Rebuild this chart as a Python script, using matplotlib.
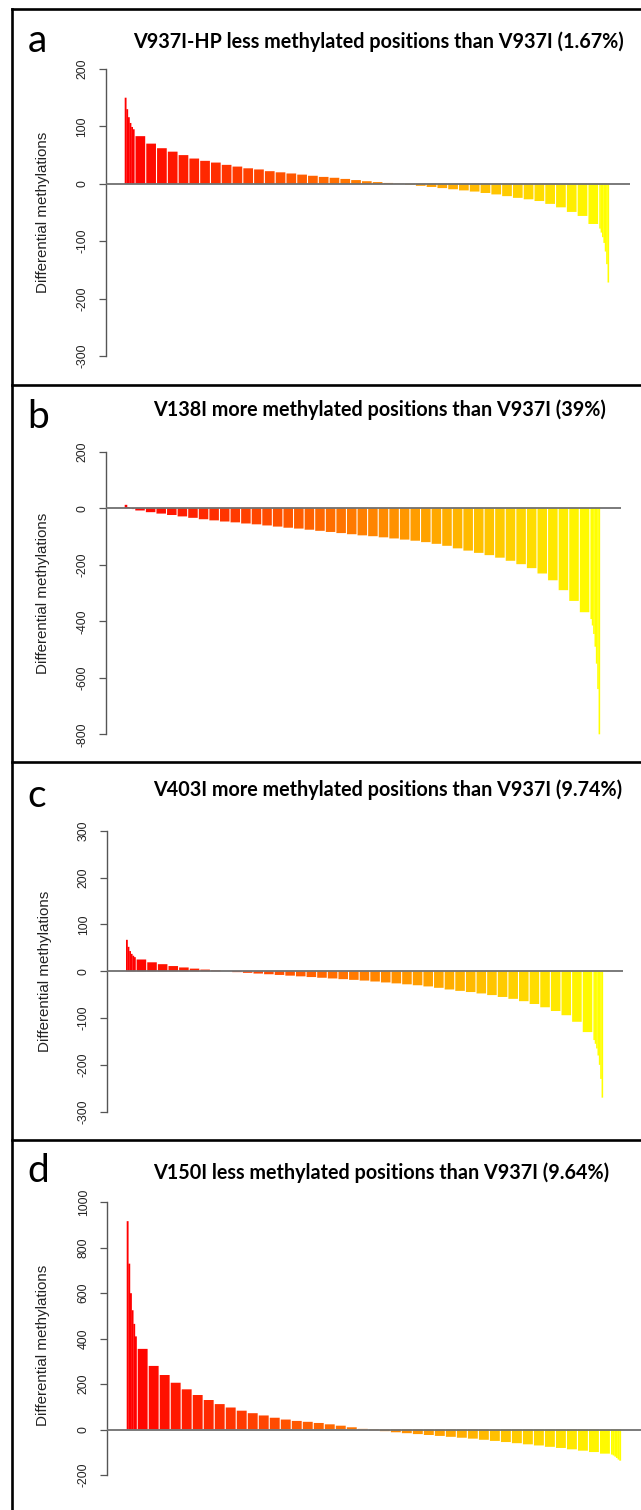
import matplotlib
matplotlib.use("Agg")
import matplotlib.pyplot as plt
from matplotlib.colors import LinearSegmentedColormap
from matplotlib.lines import Line2D

W, H = 641, 1510

# ---- data (sorted differential methylations, read per visible stripe) ----
a_title = "V937I-HP less methylated positions than V937I (1.67%)"
a_ticks = [200, 100, 0, -100, -200, -300]
a_head = [150, 130, 116, 106, 99, 95]
a_vals = [83, 70, 62, 56, 50, 44, 40, 37, 33, 30, 27, 25, 22, 20, 18, 16, 14, 12,
          10.5, 8.5, 6.5, 4.5, 3, 1.5, 0.5, -1.5, -3.5, -5.5, -7.5, -9.5, -11.5,
          -13.5, -16, -18.5, -21.5, -24.5, -27, -30, -35, -41, -49, -56, -70]
a_tail = [-78, -85, -93, -103, -118, -140, -172]

b_title = "V138I more methylated positions than V937I (39%)"
b_ticks = [200, 0, -200, -400, -600, -800]
b_head = [12, 4, -1, -3]
b_vals = [-8, -14, -19, -24, -29, -34, -39, -43, -47, -50, -54, -57, -61, -65,
          -69, -72, -76, -80, -84, -88, -92, -96, -99, -103, -107, -111, -115,
          -120, -126, -133, -142, -150, -158, -166, -175, -186, -198, -212, -231,
          -255, -290, -328, -368]
b_tail = [-392, -415, -445, -490, -550, -640, -800]

c_title = "V403I more methylated positions than V937I (9.74%)"
c_ticks = [300, 200, 100, 0, -100, -200, -300]
c_head = [67, 52, 43, 37, 33, 30]
c_vals = [25, 19, 15, 11, 8, 5.5, 3.5, 1.5, 0, -2, -3.5, -5, -6.5, -8, -9.5, -11,
          -12.5, -14, -15.5, -17, -18.5, -20, -22, -24, -26, -28, -30, -32.5,
          -35.5, -39, -42, -44.5, -47.5, -51, -55, -59, -64, -70, -77, -85, -94,
          -108, -130]
c_tail = [-147, -155, -165, -180, -200, -230, -270]

d_title = "V150I less methylated positions than V937I (9.64%)"
d_ticks = [1000, 800, 600, 400, 200, 0, -200]
d_head = [917, 730, 600, 525, 465, 410]
d_vals = [355, 280, 240, 206, 177, 152, 130, 112, 97, 83, 72, 62, 52, 44, 38, 34,
          29, 23, 17, 10, 3, -3, -7, -12, -16, -20, -24, -28, -32, -36, -40, -45,
          -50, -55, -60, -65, -70, -76, -81, -87, -93, -99, -106]
d_tail = [-110, -114, -119, -125, -132, -137]

# ---- layout in pixels ----
layout = {
    "a": dict(axis_x=105.5, line_end=630, bar0=124.7, bar1=610, top=69.0, bot=356.0,
              letter=(37, 52), title=(378, 48), ylab=(43, 212.5)),
    "b": dict(axis_x=105.5, line_end=620.6, bar0=124.7, bar1=601, top=451.7, bot=734.3,
              letter=(38, 428), title=(380, 416), ylab=(43, 593)),
    "c": dict(axis_x=107, line_end=623, bar0=126, bar1=604, top=830.7, bot=1111.7,
              letter=(37, 807), title=(388, 796), ylab=(45, 971)),
    "d": dict(axis_x=107, line_end=641, bar0=126.7, bar1=622, top=1202.3, bot=1475,
              letter=(38, 1182), title=(381, 1179), ylab=(43, 1345)),
}

heat = LinearSegmentedColormap.from_list("heat", ["#ff0000", "#ff8000", "#ffff00"])

fig = plt.figure(figsize=(W / 100, H / 100), dpi=100)


def fx(x):
    return x / W


def fy(y):
    return 1 - y / H


def panel(key, title, ticks, head, vals, tail):
    L = layout[key]
    n = len(vals) + 2
    w = (L["bar1"] - L["bar0"]) / n          # px per stripe
    vtop, vbot = ticks[0], ticks[-1]
    k = (L["bot"] - L["top"]) / (vtop - vbot)  # px per unit
    zero_px = L["top"] + vtop * k
    ytop_px, ybot_px = L["top"] - 6, L["bot"] + 6
    ax = fig.add_axes([fx(L["axis_x"]), fy(ybot_px),
                       (L["line_end"] - L["axis_x"]) / W, (ybot_px - ytop_px) / H])
    ax.set_xlim(-(L["bar0"] - L["axis_x"]) / w, (L["line_end"] - L["bar0"]) / w)
    ax.set_ylim((zero_px - ybot_px) / k, (zero_px - ytop_px) / k)

    bw = 0.9
    xs, hs, ws, cs = [], [], [], []
    for j, v in enumerate(head):
        xs.append(j * bw / len(head)); hs.append(v); ws.append(bw / len(head) + 0.02)
        cs.append(heat(0.0))
    for i, v in enumerate(vals, start=1):
        xs.append(i); hs.append(v); ws.append(bw); cs.append(heat(i / (n - 1)))
    for j, v in enumerate(tail):
        xs.append(n - 1 + j * bw / len(tail)); hs.append(v)
        ws.append(bw / len(tail) + 0.02)
        cs.append(heat(1.0))
    ax.bar(xs, hs, width=ws, align="edge", color=cs, linewidth=0, snap=False)
    ax.axhline(0, color="#707070", lw=1.3, zorder=3)

    for s in ["top", "right", "bottom"]:
        ax.spines[s].set_visible(False)
    ax.spines["left"].set_color("#555555")
    ax.spines["left"].set_linewidth(1.0)
    ax.spines["left"].set_bounds(vbot, vtop)
    ax.set_xticks([])
    ax.set_yticks(ticks)
    ax.set_yticklabels([str(t) for t in ticks], rotation=90, va="center",
                       family="Liberation Sans", fontsize=8.8, color="#222222")
    ax.tick_params(axis="y", length=5, width=0.9, color="#555555", pad=7.5)
    ax.patch.set_alpha(0)

    fig.text(fx(L["ylab"][0]), fy(L["ylab"][1]), "Differential methylations",
             rotation=90, ha="center", va="center", family="Liberation Sans",
             fontsize=10.9, color="#222222")
    fig.text(fx(L["title"][0]), fy(L["title"][1]), title, ha="center", va="baseline",
             family="Lato", fontweight="bold", fontsize=14.2, color="black")
    fig.text(fx(L["letter"][0]), fy(L["letter"][1]), key, ha="center", va="baseline",
             family="Lato", fontsize=28, color="black")


panel("a", a_title, a_ticks, a_head, a_vals, a_tail)
panel("b", b_title, b_ticks, b_head, b_vals, b_tail)
panel("c", c_title, c_ticks, c_head, c_vals, c_tail)
panel("d", d_title, d_ticks, d_head, d_vals, d_tail)

# panel frames
for yb in [8.5, 385, 762, 1140]:
    fig.add_artist(Line2D([fx(12), fx(W)], [fy(yb), fy(yb)], color="black", lw=1.9))
fig.add_artist(Line2D([fx(12), fx(12)], [fy(8.5), fy(H)], color="black", lw=1.9))

fig.savefig("out.png", dpi=100)
